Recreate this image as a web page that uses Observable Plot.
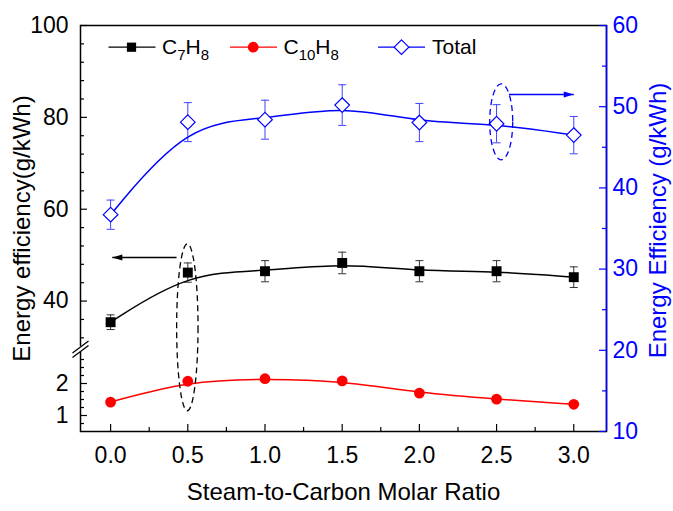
<!DOCTYPE html>
<html><head><meta charset="utf-8">
<script src="https://cdn.jsdelivr.net/npm/d3@7"></script>
<script src="https://cdn.jsdelivr.net/npm/@observablehq/plot@0.6"></script>
<style>html,body{margin:0;padding:0;background:#fff;}</style>
</head><body><div id="chart"></div>
<script>
// ---- data ----
const ratios   = [0, 0.5, 1.0, 1.5, 2.0, 2.5, 3.0];
const c7h8     = [35.4, 46.2, 46.5, 48.3, 46.5, 46.5, 45.2];
const c7h8Err  = [1.6, 2.1, 2.3, 2.35, 2.3, 2.3, 2.25];
const c10h8    = [1.42, 2.07, 2.15, 2.08, 1.70, 1.51, 1.35];
const total    = [36.7, 48.1, 48.4, 50.2, 48.05, 47.9, 46.5];
const totalErr = [1.8, 2.4, 2.4, 2.5, 2.35, 2.35, 2.3];

const xTicks = [0, 0.5, 1.0, 1.5, 2.0, 2.5, 3.0];
const xMinor = [0.25, 0.75, 1.25, 1.75, 2.25, 2.75];
const leftUpperTicks = [40, 60, 80, 100];
const leftUpperMinor = [32, 36, 44, 48, 52, 56, 64, 68, 72, 76, 84, 88, 92, 96];
const leftLowerTicks = [1, 2];
const leftLowerMinor = [0.75, 1.25, 1.5, 1.75, 2.25, 2.5, 2.75];
const rightTicks = [10, 20, 30, 40, 50, 60];
const rightMinor = [15, 25, 35, 45, 55];

// ---- broken left axis: lower segment 0.5–3, upper 30–100; right axis 10–60 ----
const V = 406;                   // virtual span of the y scale
const LOW = [0.5, 3.0], UP = [30, 100], RIGHT = [10, 60];
const lowSpan = 80, gap = 4.5;
const yL = v => v <= 10 ? (v - LOW[0]) / (LOW[1] - LOW[0]) * lowSpan
                        : lowSpan + gap + (v - UP[0]) / (UP[1] - UP[0]) * (V - lowSpan - gap);
const yR = v => (v - RIGHT[0]) / (RIGHT[1] - RIGHT[0]) * V;
const xDomain = [-0.195, 3.212];

const rows = ratios.map((r, i) => ({r, c7: c7h8[i], c7e: c7h8Err[i], c10: c10h8[i], tot: total[i], tote: totalErr[i]}));

// ---- custom symbols ----
const hline = {draw(ctx, size) { const w = Math.sqrt(size / Math.PI); ctx.moveTo(-w, 0); ctx.lineTo(w, 0); }};
const ellipse = (rx, ry) => ({draw(ctx) {
  const k = 0.5523;
  ctx.moveTo(rx, 0);
  ctx.bezierCurveTo(rx, k * ry, k * rx, ry, 0, ry);
  ctx.bezierCurveTo(-k * rx, ry, -rx, k * ry, -rx, 0);
  ctx.bezierCurveTo(-rx, -k * ry, -k * rx, -ry, 0, -ry);
  ctx.bezierCurveTo(k * rx, -ry, rx, -k * ry, rx, 0);
}});
const head = (dir) => ({draw(ctx) {
  const L = 10, w = 6;
  ctx.moveTo(0, 0); ctx.lineTo(-dir * L, -w / 2); ctx.lineTo(-dir * L, w / 2); ctx.closePath();
}});

// ---- annotations (data units) ----
const leftArrow  = [{x1: 0.427, x2: 0.011, y: 49.5}];
const rightArrow = [{x1: 2.58, x2: 3.0, y: 51.5}];
const leftOval   = [{x: 0.497, y: 34.3}];
const rightOval  = [{x: 2.53, y: 48.14}];

const FS = 23, TS = 24, LS = 21;
const font = "'Liberation Sans', Arial, sans-serif";
const leftLabels = new Map([...leftUpperTicks, ...leftLowerTicks].map(v => [yL(v), String(v)]));
const rightLabels = new Map(rightTicks.map(v => [yR(v), String(v)]));
const W = 673 - 80 - 67, H = 511 - 25 - 80;

const chart = Plot.plot({
  width: 673, height: 511,
  marginLeft: 80, marginRight: 67, marginTop: 25, marginBottom: 80,
  style: {fontFamily: font, fontSize: FS + "px", background: "#fff", color: "black"},
  x: {domain: xDomain},
  y: {domain: [0, V]},
  marks: [
    Plot.frame({stroke: "black", strokeWidth: 1.5}),
    Plot.ruleX([xDomain[1]], {stroke: "blue", strokeWidth: 1.5}),
    // axis break
    Plot.ruleX([xDomain[0]], {y1: lowSpan - 0.5, y2: lowSpan + gap + 0.5, stroke: "white", strokeWidth: 4}),
    Plot.link([{a: lowSpan}, {a: lowSpan + gap}], {x1: -0.247, x2: -0.143, y1: d => d.a - 6, y2: d => d.a + 6, stroke: "black", strokeWidth: 1.3}),
    // ticks (inward)
    Plot.tickY([...leftUpperTicks, ...leftLowerTicks].map(yL), {insetRight: W - 7, stroke: "black", strokeWidth: 1.2}),
    Plot.tickY([...leftUpperMinor, ...leftLowerMinor].map(yL), {insetRight: W - 4, stroke: "black", strokeWidth: 1.2}),
    Plot.tickY(rightTicks.map(yR), {insetLeft: W - 7, stroke: "blue", strokeWidth: 1.2}),
    Plot.tickY(rightMinor.map(yR), {insetLeft: W - 4, stroke: "blue", strokeWidth: 1.2}),
    Plot.tickX(xTicks, {insetTop: H - 7, stroke: "black", strokeWidth: 1.2}),
    Plot.tickX(xMinor, {insetTop: H - 4, stroke: "black", strokeWidth: 1.2}),
    // axes labels
    Plot.axisX(xTicks, {tickSize: 0, tickPadding: 15, tickFormat: d3.format(".1f"), fontSize: FS, label: null}),
    Plot.axisY([...leftLabels.keys()], {tickSize: 0, tickPadding: 12, tickFormat: d => leftLabels.get(d), fontSize: FS, label: null}),
    Plot.axisY([...rightLabels.keys()], {anchor: "right", tickSize: 0, tickPadding: 6, tickFormat: d => rightLabels.get(d), fontSize: FS, fill: "blue", label: null}),
    Plot.text(["Energy efficiency(g/kWh)"], {text: d => d, frameAnchor: "left", dx: -58, rotate: -90, textAnchor: "middle", lineAnchor: "middle", fontSize: TS}),
    Plot.text(["Energy Efficiency (g/kWh)"], {text: d => d, frameAnchor: "right", dx: 52, dy: -8, rotate: -90, textAnchor: "middle", lineAnchor: "middle", fontSize: 24, fill: "blue"}),
    Plot.text(["Steam-to-Carbon Molar Ratio"], {text: d => d, frameAnchor: "bottom", dy: 61, textAnchor: "middle", lineAnchor: "middle", fontSize: TS}),
    // error bars
    Plot.ruleX(rows, {x: "r", y1: d => yL(d.c7 - d.c7e), y2: d => yL(d.c7 + d.c7e), stroke: "#333", strokeWidth: 1}),
    Plot.dot(rows, {x: "r", y: d => yL(d.c7 - d.c7e), symbol: hline, r: 4, stroke: "#333", fill: "none", strokeWidth: 1}),
    Plot.dot(rows, {x: "r", y: d => yL(d.c7 + d.c7e), symbol: hline, r: 4, stroke: "#333", fill: "none", strokeWidth: 1}),
    Plot.ruleX(rows, {x: "r", y1: d => yR(d.tot - d.tote), y2: d => yR(d.tot + d.tote), stroke: "#4040ff", strokeWidth: 1}),
    Plot.dot(rows, {x: "r", y: d => yR(d.tot - d.tote), symbol: hline, r: 4, stroke: "#4040ff", fill: "none", strokeWidth: 1}),
    Plot.dot(rows, {x: "r", y: d => yR(d.tot + d.tote), symbol: hline, r: 4, stroke: "#4040ff", fill: "none", strokeWidth: 1}),
    // lines
    Plot.line(rows, {x: "r", y: d => yL(d.c7), curve: "basis", stroke: "black", strokeWidth: 1.5}),
    Plot.line(rows, {x: "r", y: d => yL(d.c10), curve: "basis", stroke: "red", strokeWidth: 1.5}),
    Plot.line(rows, {x: "r", y: d => yR(d.tot), curve: "basis", stroke: "blue", strokeWidth: 1.5}),
    // markers
    Plot.dot(rows, {x: "r", y: d => yL(d.c7), symbol: "square", r: 5.6, fill: "black", stroke: "none"}),
    Plot.dot(rows, {x: "r", y: d => yL(d.c10), symbol: "circle", r: 5.4, fill: "red", stroke: "none"}),
    Plot.dot(rows, {x: "r", y: d => yR(d.tot), symbol: "diamond2", r: 6.6, fill: "white", stroke: "blue", strokeWidth: 1.2}),
    // annotations
    Plot.dot(leftOval, {x: "x", y: d => yL(d.y), symbol: ellipse(10.7, 83.5), stroke: "black", fill: "none", strokeWidth: 1.3, strokeDasharray: "6,4"}),
    Plot.dot(rightOval, {x: "x", y: d => yR(d.y), symbol: ellipse(11.5, 38), stroke: "blue", fill: "none", strokeWidth: 1.3, strokeDasharray: "6,4"}),
    Plot.link(leftArrow, {x1: "x1", x2: "x2", y1: d => yL(d.y), y2: d => yL(d.y), stroke: "black", strokeWidth: 1.5}),
    Plot.dot(leftArrow, {x: "x2", y: d => yL(d.y), symbol: head(-1), r: 5, fill: "black", stroke: "none"}),
    Plot.link(rightArrow, {x1: "x1", x2: "x2", y1: d => yR(d.y), y2: d => yR(d.y), stroke: "blue", strokeWidth: 1.5}),
    Plot.dot(rightArrow, {x: "x2", y: d => yR(d.y), symbol: head(1), r: 5, fill: "blue", stroke: "none"}),
    // legend
    Plot.dot([0], {frameAnchor: "top-left", dx: 51.5, dy: 21.7, symbol: hline, r: 23.5, stroke: "black", strokeWidth: 1.3}),
    Plot.dot([0], {frameAnchor: "top-left", dx: 51, dy: 21.7, symbol: "square", r: 5.2, fill: "black", stroke: "none"}),
    Plot.text(["C7H8"], {text: d => d, frameAnchor: "top-left", dx: 81.5, dy: 21.7, textAnchor: "start", lineAnchor: "middle", fontSize: LS}),
    Plot.dot([0], {frameAnchor: "top-left", dx: 173, dy: 21.7, symbol: hline, r: 23.5, stroke: "red", strokeWidth: 1.3}),
    Plot.dot([0], {frameAnchor: "top-left", dx: 172.7, dy: 21.7, symbol: "circle", r: 5.4, fill: "red", stroke: "none"}),
    Plot.text(["C10H8"], {text: d => d, frameAnchor: "top-left", dx: 203, dy: 21.7, textAnchor: "start", lineAnchor: "middle", fontSize: LS}),
    Plot.dot([0], {frameAnchor: "top-left", dx: 321, dy: 21.7, symbol: hline, r: 23.5, stroke: "blue", strokeWidth: 1.3}),
    Plot.dot([0], {frameAnchor: "top-left", dx: 321, dy: 21.7, symbol: "diamond2", r: 6.6, fill: "white", stroke: "blue", strokeWidth: 1.2}),
    Plot.text(["Total"], {text: d => d, frameAnchor: "top-left", dx: 351.5, dy: 21.7, textAnchor: "start", lineAnchor: "middle", fontSize: LS})
  ]
});

// subscripts in legend formulas
const NS = "http://www.w3.org/2000/svg";
chart.querySelectorAll("text").forEach(t => {
  const s = t.textContent;
  const m = s.match(/^C(\d+)H(\d+)$/);
  if (!m) return;
  while (t.firstChild) t.removeChild(t.firstChild);
  const parts = [["C", 0], [m[1], 1], ["H", 0], [m[2], 1]];
  let cur = 0;
  parts.forEach(([txt, sub]) => {
    const ts = document.createElementNS(NS, "tspan");
    const want = sub ? 6 : 0;
    ts.setAttribute("dy", want - cur);
    cur = want;
    if (sub) ts.setAttribute("font-size", "15");
    ts.textContent = txt;
    t.appendChild(ts);
  });
});

document.getElementById("chart").appendChild(chart);
</script>
</body></html>
